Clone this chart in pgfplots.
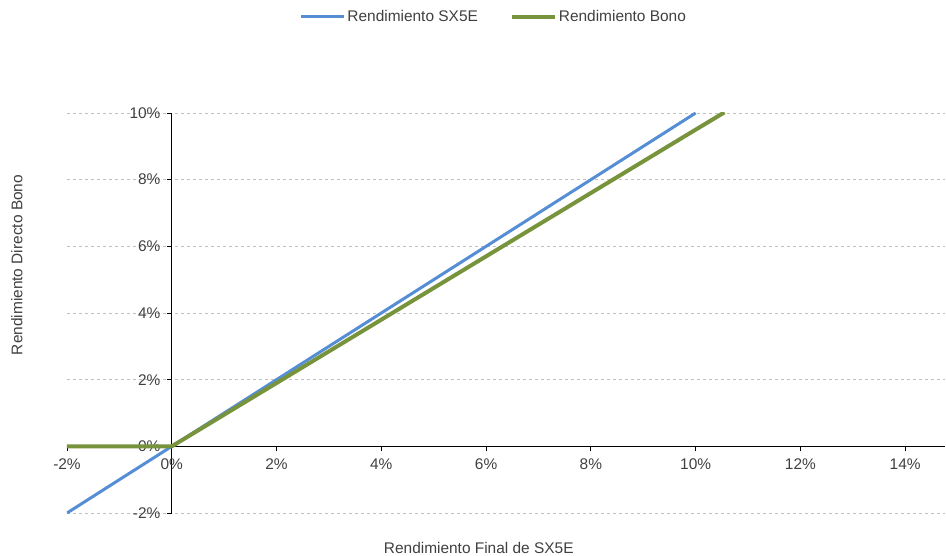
\documentclass[border=0pt]{standalone}
\usepackage{fontspec}
\setmainfont{Liberation Sans}
\usepackage{pgfplots}
\pgfplotsset{compat=1.18}

\definecolor{sxblue}{HTML}{558ED5}
\definecolor{bonogreen}{HTML}{77933C}
\definecolor{txt}{HTML}{404040}
\definecolor{gridgray}{HTML}{C0C0C0}

\begin{document}
\fontsize{15.5}{18}\selectfont
\begin{tikzpicture}
\begin{axis}[
    scale only axis,
    width=878bp, height=400bp,
    xmin=-2, xmax=14.76,
    ymin=-2, ymax=10,
    axis lines=middle,
    axis line style={black, line width=1pt, -},
    hide obscured x ticks=false,
    hide obscured y ticks=false,
    xtick={-2,0,2,4,6,8,10,12,14},
    xticklabels={-2\%,0\%,2\%,4\%,6\%,8\%,10\%,12\%,14\%},
    ytick={-2,0,2,4,6,8,10},
    yticklabels={-2\%,0\%,2\%,4\%,6\%,8\%,10\%},
    tick align=outside,
    major tick length=5bp,
    tick style={black, line width=0.8pt},
    ticklabel style={text=txt, font=\fontsize{15.5}{18}\selectfont},
    xticklabel style={yshift=-2bp},
    yticklabel style={xshift=-1bp},
    ymajorgrids,
    grid style={gridgray, dashed, dash pattern=on 3bp off 3bp, line width=0.8pt},
    xlabel={Rendimiento Final de SX5E},
    ylabel={Rendimiento Directo Bono},
    xlabel style={at={(rel axis cs:0.469,0)}, anchor=center, yshift=-35bp, text=txt},
    ylabel style={at={(rel axis cs:-0.057,0.62)}, anchor=center, rotate=90, text=txt},
    legend columns=2,
    legend style={at={(rel axis cs:0.486,1.24)}, anchor=center, draw=none,
        fill=none, text=txt, font=\fontsize{15.5}{18}\selectfont,
        /tikz/every even column/.append style={column sep=30bp}},
    legend image code/.code={\draw[#1] (0bp,0bp) -- (43bp,0bp);},
    legend cell align=left,
]
\addplot[color=sxblue, line width=3bp] coordinates {
    (-2,-2) (0,0) (10,10)
};
\addlegendentry{Rendimiento SX5E}
\addplot[color=bonogreen, line width=4bp] coordinates {
    (-2,0) (0,0) (2,1.9) (4,3.8) (6,5.7) (8,7.6) (10,9.5) (10.55,10.02)
};
\addlegendentry{Rendimiento Bono}
\end{axis}
\pgfresetboundingbox
\path[use as bounding box] ([xshift=-67bp,yshift=-43bp]current axis.south west)
    rectangle ([xshift=1bp,yshift=113bp]current axis.north east);
\end{tikzpicture}
\end{document}
